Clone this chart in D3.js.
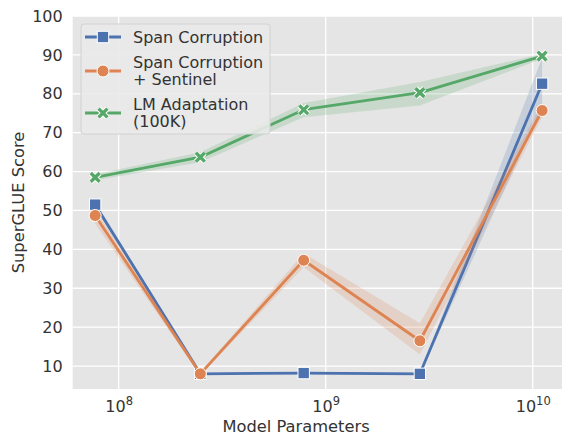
<!DOCTYPE html>
<html>
<head>
<meta charset="utf-8">
<script src="https://cdn.jsdelivr.net/npm/d3@7"></script>
<style>
  html, body { margin: 0; padding: 0; background: #ffffff; }
  svg { display: block; font-family: "DejaVu Sans", sans-serif; }
</style>
</head>
<body>
<svg id="chart" width="562" height="435"></svg>
<script>
// Model sizes (number of parameters)
const params = [77e6, 248e6, 783e6, 2.85e9, 11.1e9];

// SuperGLUE scores per objective, with confidence band bounds
const spanCorruption     = [51.5, 8.0, 8.2, 8.0, 82.6];
const spanCorruptionLow  = [50.6, 7.8, 7.9, 7.8, 76.5];
const spanCorruptionHigh = [52.4, 8.2, 8.5, 8.2, 89.2];

const sentinel     = [48.7, 8.0, 37.2, 16.5, 75.7];
const sentinelLow  = [46.6, 7.6, 35.4, 13.0, 74.0];
const sentinelHigh = [50.4, 8.4, 39.0, 21.0, 77.4];

const lmAdaptation     = [58.5, 63.7, 75.9, 80.3, 89.7];
const lmAdaptationLow  = [57.8, 62.4, 74.0, 77.0, 89.0];
const lmAdaptationHigh = [59.3, 65.0, 77.6, 83.0, 90.3];

const seriesNames = ["Span Corruption", "Span Corruption\n+ Sentinel", "LM Adaptation\n(100K)"];
const seriesColors = ["#4C72B0", "#DD8452", "#55A868"];
const seriesMarkers = ["square", "circle", "cross"];

const yTicks = [10, 20, 30, 40, 50, 60, 70, 80, 90, 100];
const xTicks = [1e8, 1e9, 1e10];
const xTickExponents = ["8", "9", "10"];

const series = [
  { name: seriesNames[0], values: spanCorruption, low: spanCorruptionLow, high: spanCorruptionHigh },
  { name: seriesNames[1], values: sentinel, low: sentinelLow, high: sentinelHigh },
  { name: seriesNames[2], values: lmAdaptation, low: lmAdaptationLow, high: lmAdaptationHigh }
].map((s, i) => ({ ...s, color: seriesColors[i], marker: seriesMarkers[i] }));

const svg = d3.select("#chart");
const plot = { left: 72.7, right: 564.4, top: 16, bottom: 389 };

const x = d3.scaleLog()
  .domain([Math.pow(10, 7.778), Math.pow(10, 10.153)])
  .range([plot.left, plot.right]);
const y = d3.scaleLinear()
  .domain([4.1, 100])
  .range([plot.bottom, plot.top]);

// Plot background
svg.append("rect")
  .attr("x", plot.left).attr("y", plot.top)
  .attr("width", plot.right - plot.left).attr("height", plot.bottom - plot.top)
  .attr("fill", "#e5e5e5");

// Grid lines
const grid = svg.append("g");
grid.selectAll("line.h").data(yTicks).join("line")
  .attr("x1", plot.left).attr("x2", plot.right)
  .attr("y1", d => y(d)).attr("y2", d => y(d))
  .attr("stroke", "#ffffff").attr("stroke-width", 1.3);
grid.selectAll("line.v").data(xTicks).join("line")
  .attr("y1", plot.top).attr("y2", plot.bottom)
  .attr("x1", d => x(d)).attr("x2", d => x(d))
  .attr("stroke", "#ffffff").attr("stroke-width", 1.3);

// Y axis tick labels
const yAxis = svg.append("g")
  .attr("transform", `translate(${plot.left},0)`)
  .call(d3.axisLeft(y).tickValues(yTicks).tickSize(0).tickPadding(10));
yAxis.select(".domain").remove();
yAxis.selectAll("text")
  .attr("font-family", "DejaVu Sans").attr("font-size", 16).attr("fill", "#333333");

// X axis tick labels (powers of ten)
const xAxis = svg.append("g")
  .attr("transform", `translate(0,${plot.bottom})`)
  .call(d3.axisBottom(x).tickValues(xTicks).tickSize(0).tickFormat(""));
xAxis.select(".domain").remove();
xAxis.selectAll(".tick").each(function (d, i) {
  const t = d3.select(this).append("text")
    .attr("y", 22.5).attr("text-anchor", "middle")
    .attr("font-family", "DejaVu Sans").attr("font-size", 16).attr("fill", "#333333");
  t.append("tspan").text("10");
  t.append("tspan").attr("dy", -6.5).attr("font-size", 11.5).text(xTickExponents[i]);
});

// Axis titles
svg.append("text")
  .attr("x", 296).attr("y", 431.5).attr("text-anchor", "middle")
  .attr("font-size", 16.3).attr("fill", "#333333")
  .text("Model Parameters");
svg.append("text")
  .attr("transform", `translate(24,${(plot.top + plot.bottom) / 2}) rotate(-90)`)
  .attr("text-anchor", "middle")
  .attr("font-size", 16.3).attr("fill", "#333333")
  .text("SuperGLUE Score");

const clip = svg.append("defs").append("clipPath").attr("id", "plotclip")
  .append("rect")
  .attr("x", plot.left).attr("y", plot.top)
  .attr("width", plot.right - plot.left).attr("height", plot.bottom - plot.top);

const area = d3.area()
  .x((d, i) => x(params[i]))
  .y0(d => y(d[0]))
  .y1(d => y(d[1]));
const line = d3.line()
  .x((d, i) => x(params[i]))
  .y(d => y(d));

function drawMarker(g, kind, cx, cy, color) {
  if (kind === "square") {
    g.append("rect")
      .attr("x", cx - 5.7).attr("y", cy - 5.7).attr("width", 11.4).attr("height", 11.4)
      .attr("fill", color).attr("stroke", "#ffffff").attr("stroke-width", 1);
  } else if (kind === "circle") {
    g.append("circle")
      .attr("cx", cx).attr("cy", cy).attr("r", 6)
      .attr("fill", color).attr("stroke", "#ffffff").attr("stroke-width", 1);
  } else {
    const s = 4.4;
    const p = `M${cx - s},${cy - s}L${cx + s},${cy + s}M${cx - s},${cy + s}L${cx + s},${cy - s}`;
    g.append("path").attr("d", p)
      .attr("stroke", "#ffffff").attr("stroke-width", 5.4).attr("stroke-linecap", "butt");
    g.append("path").attr("d", p)
      .attr("stroke", color).attr("stroke-width", 3.4).attr("stroke-linecap", "butt");
  }
}

const marks = svg.append("g").attr("clip-path", "url(#plotclip)");
series.forEach(s => {
  const g = marks.append("g");
  g.append("path")
    .datum(s.low.map((lo, i) => [lo, s.high[i]]))
    .attr("d", area)
    .attr("fill", s.color).attr("fill-opacity", 0.2);
  g.append("path")
    .datum(s.values)
    .attr("d", line)
    .attr("fill", "none").attr("stroke", s.color).attr("stroke-width", 2.8)
    .attr("stroke-linejoin", "round");
  s.values.forEach((v, i) => drawMarker(g, s.marker, x(params[i]), y(v), s.color));
});

// Legend
const legend = svg.append("g");
legend.append("rect")
  .attr("x", 81).attr("y", 24).attr("width", 189).attr("height", 110)
  .attr("rx", 3).attr("fill", "#e9e9e9").attr("fill-opacity", 0.9)
  .attr("stroke", "#d2d2d2").attr("stroke-width", 1);
const legendRows = [37, 71, 113];
series.forEach((s, i) => {
  const cy = legendRows[i];
  const lines = s.name.split("\n");
  legend.append("line")
    .attr("x1", 85).attr("x2", 121).attr("y1", cy).attr("y2", cy)
    .attr("stroke", s.color).attr("stroke-width", 2.8);
  drawMarker(legend, s.marker, 103, cy, s.color);
  const t = legend.append("text")
    .attr("x", 133).attr("font-size", 16).attr("fill", "#333333");
  const lh = 17.5;
  const firstY = cy + 5.7 - (lines.length - 1) * lh / 2;
  lines.forEach((ln, j) => {
    t.append("tspan").attr("x", 133).attr("y", firstY + j * lh).text(ln);
  });
});
</script>
</body>
</html>
